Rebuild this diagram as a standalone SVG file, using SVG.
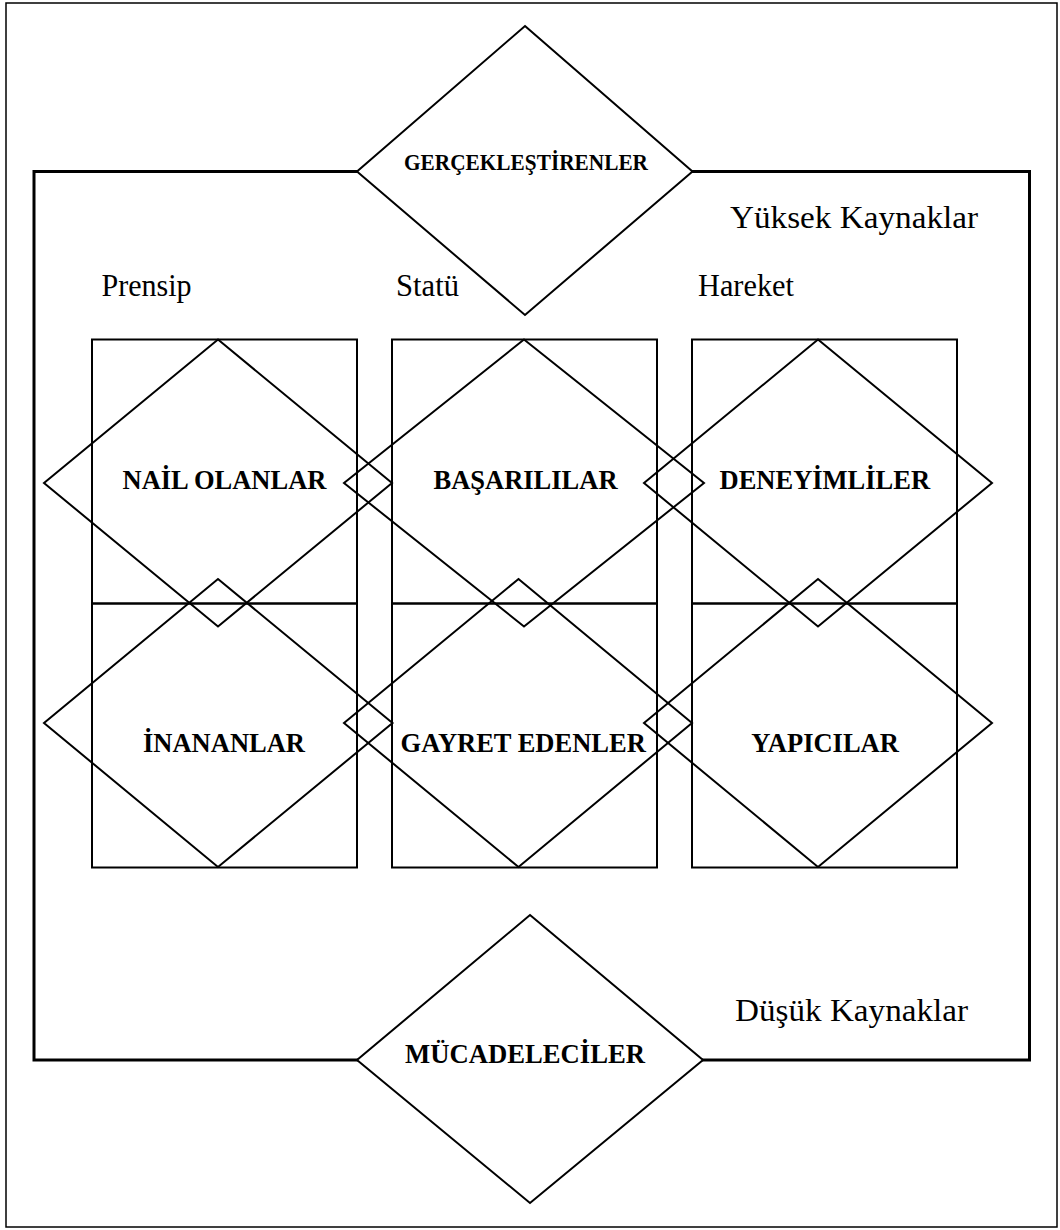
<svg xmlns="http://www.w3.org/2000/svg" width="1060" height="1230" viewBox="0 0 1060 1230">
<style>
.ln{fill:none;stroke:#000;stroke-width:2}
.wd{fill:#fff;stroke:#000;stroke-width:2}
.frame{fill:none;stroke:#000;stroke-width:3}
.border{fill:none;stroke:#000;stroke-width:1.5}
.lb{font-family:"Liberation Serif","Times New Roman",serif;font-weight:bold;font-size:26.5px;fill:#000;text-anchor:middle}
.lbs{font-family:"Liberation Serif","Times New Roman",serif;font-weight:bold;fill:#000;text-anchor:middle}
.rg{font-family:"Liberation Serif","Times New Roman",serif;font-size:31px;fill:#000}
.rgl{font-family:"Liberation Serif","Times New Roman",serif;font-size:32px;fill:#000}
</style>
<rect id="page-border" class="border" x="6" y="3" width="1051" height="1224"/>
<g id="resources-frame">
<rect class="frame" x="34" y="171.5" width="995.5" height="888.5"/>
<text class="rgl" x="730" y="228" textLength="248" lengthAdjust="spacingAndGlyphs">Yüksek Kaynaklar</text>
<text class="rgl" x="735" y="1021" textLength="233" lengthAdjust="spacingAndGlyphs">Düşük Kaynaklar</text>
</g>
<g id="column-labels">
<text class="rg" x="101.5" y="296" textLength="90" lengthAdjust="spacingAndGlyphs">Prensip</text>
<text class="rg" x="396" y="296" textLength="63" lengthAdjust="spacingAndGlyphs">Statü</text>
<text class="rg" x="698" y="296" textLength="96" lengthAdjust="spacingAndGlyphs">Hareket</text>
</g>
<g id="cells">
<rect class="ln" x="92" y="339.5" width="265" height="264"/>
<rect class="ln" x="92" y="603.5" width="265" height="264"/>
<rect class="ln" x="392" y="339.5" width="265" height="264"/>
<rect class="ln" x="392" y="603.5" width="265" height="264"/>
<rect class="ln" x="692" y="339.5" width="265" height="264"/>
<rect class="ln" x="692" y="603.5" width="265" height="264"/>
</g>
<g id="connectors"/>
<g id="node-gerceklestirenler">
<polygon class="wd" points="525,26 692.5,171.5 525,315 357,171.5"/>
<text class="lbs" x="526" y="170" style="font-size:24px" textLength="244" lengthAdjust="spacingAndGlyphs">GERÇEKLEŞTİRENLER</text>
</g>
<g id="node-nail-olanlar">
<polygon class="ln" points="218,339.5 392,483 218,626.5 44,483"/>
<text class="lb" x="224.5" y="489.3">NAİL OLANLAR</text>
</g>
<g id="node-basarililar">
<polygon class="ln" points="524,339.5 704,483 524,626.5 344,483"/>
<text class="lb" x="525.5" y="489.3">BAŞARILILAR</text>
</g>
<g id="node-deneyimliler">
<polygon class="ln" points="818,339.5 992,483 818,626.5 644,483"/>
<text class="lb" x="824.8" y="489.3">DENEYİMLİLER</text>
</g>
<g id="node-inananlar">
<polygon class="ln" points="218,579 392.5,723 218,867 44,723"/>
<text class="lb" x="224" y="751.7">İNANANLAR</text>
</g>
<g id="node-gayret-edenler">
<polygon class="ln" points="518.5,579 692,723 518.5,867 344,723"/>
<text class="lb" x="523.2" y="751.7">GAYRET EDENLER</text>
</g>
<g id="node-yapicilar">
<polygon class="ln" points="818,579 992,723 818,867 644,723"/>
<text class="lb" x="825" y="751.7">YAPICILAR</text>
</g>
<g id="node-mucadeleciler">
<polygon class="wd" points="530,915 703,1060 530,1203 357,1060"/>
<text class="lbs" x="525" y="1063" style="font-size:27px" textLength="240" lengthAdjust="spacingAndGlyphs">MÜCADELECİLER</text>
</g>
</svg>
